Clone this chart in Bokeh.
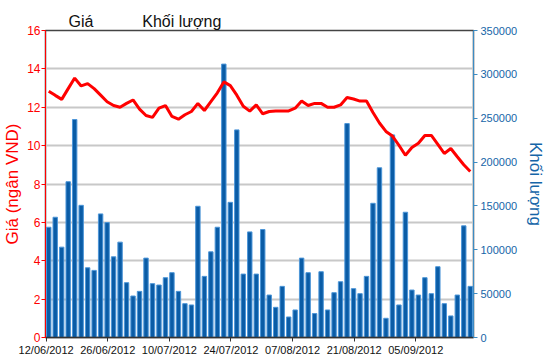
from bokeh.plotting import figure
from bokeh.models import (Range1d, LinearAxis, FixedTicker, SingleIntervalTicker,
                          NumeralTickFormatter, ColumnDataSource)
from bokeh.embed import file_html
from bokeh.resources import INLINE

tick_labels = ["12/06/2012", "26/06/2012", "10/07/2012", "24/07/2012",
               "07/08/2012", "21/08/2012", "05/09/2012"]
legend_labels = ["Giá", "Khối lượng"]

price = [12.84, 12.62, 12.41, 12.97, 13.52, 13.11, 13.23, 12.97, 12.63, 12.29,
         12.09, 12.00, 12.20, 12.38, 11.90, 11.57, 11.47, 11.95, 12.09, 11.52,
         11.38, 11.61, 11.78, 12.20, 11.83, 12.29, 12.75, 13.32, 13.13, 12.63,
         12.05, 11.80, 12.12, 11.66, 11.78, 11.81, 11.81, 11.81, 11.95, 12.32,
         12.09, 12.20, 12.20, 12.00, 12.00, 12.12, 12.51, 12.43, 12.32, 12.32,
         11.73, 11.18, 10.74, 10.50, 10.02, 9.50, 9.90, 10.12, 10.53, 10.53,
         10.07, 9.59, 9.85, 9.42, 9.00, 8.65]

volume = [125700, 137100, 103000, 177600, 248500, 150700, 79500, 76500, 140900, 131000,
          92000, 108700, 62500, 47300, 52600, 90500, 61400, 59800, 68200, 73900,
          52600, 38600, 37100, 149600, 69700, 97700, 125700, 311700, 154100, 236700,
          72300, 120400, 72300, 123100, 48400, 34400, 58300, 23400, 31400, 90500,
          73900, 27300, 75000, 31400, 51100, 63600, 243900, 55700, 50000, 69700,
          153000, 193500, 21900, 231000, 37100, 142800, 54100, 48400, 68200, 50000,
          80700, 38600, 24600, 48400, 127300, 58300]

n = len(price)
src = ColumnDataSource(dict(x=list(range(n)), price=price, volume=volume))

FONT = "Liberation Sans"
RED = "#ff0000"
BLUE = "#1565a8"
BAR = "#0a5ca6"

p = figure(width=548, height=358, output_backend="svg", toolbar_location=None,
           x_range=Range1d(-0.5, n - 0.5), y_range=Range1d(0, 16),
           min_border_left=44, min_border_right=72, min_border_top=30, min_border_bottom=20)
p.extra_y_ranges = {"vol": Range1d(0, 350000)}
p.outline_line_color = "#444444"
p.outline_line_width = 1.5

# legend text row above the plot area
p.title.text = legend_labels[0] + "\u00a0" * 11 + legend_labels[1]
p.title.text_font = FONT
p.title.text_font_size = "16px"
p.title.text_font_style = "normal"
p.title.text_color = "#111111"
p.title.align = "left"
p.title.offset = 23
p.title.standoff = 2

p.xgrid.visible = False
p.ygrid.grid_line_color = "#c8c8c8"
p.ygrid.grid_line_width = 2

p.vbar(x="x", top="volume", width=0.68, y_range_name="vol", source=src,
       fill_color=BAR, line_color="#4d96d8", line_width=1)
p.line("x", "price", source=src, line_color=RED, line_width=3)

ya = p.yaxis[0]
ya.ticker = SingleIntervalTicker(interval=2)
ya.axis_line_color = RED
ya.major_tick_line_color = RED
ya.minor_tick_line_color = None
ya.major_tick_in = 0
ya.major_tick_out = 4
ya.major_label_text_color = RED
ya.major_label_text_font = FONT
ya.major_label_text_font_size = "12px"
ya.major_label_standoff = 1
ya.axis_label = "Giá (ngân VND)"
ya.axis_label_text_color = RED
ya.axis_label_text_font = FONT
ya.axis_label_text_font_size = "17px"
ya.axis_label_text_font_style = "normal"
ya.axis_label_standoff = 2

ra = LinearAxis(y_range_name="vol", ticker=SingleIntervalTicker(interval=50000),
                formatter=NumeralTickFormatter(format="0"))
ra.axis_line_color = "#3d8cc4"
ra.major_tick_line_color = "#3d8cc4"
ra.minor_tick_line_color = None
ra.major_tick_in = 0
ra.major_tick_out = 4
ra.major_label_text_color = BLUE
ra.major_label_text_font = FONT
ra.major_label_text_font_size = "11px"
ra.major_label_standoff = 3
ra.axis_label = "Khối lượng"
ra.axis_label_text_color = BLUE
ra.axis_label_text_font = FONT
ra.axis_label_text_font_size = "17px"
ra.axis_label_text_font_style = "normal"
ra.axis_label_standoff = 6
p.add_layout(ra, "right")

tick_pos = [round(-0.4 + 9.5 * k, 2) for k in range(len(tick_labels))]
xa = p.xaxis[0]
xa.ticker = FixedTicker(ticks=tick_pos)
xa.major_label_overrides = {t: lab for t, lab in zip(tick_pos, tick_labels)}
xa.axis_line_color = "#333333"
xa.axis_line_width = 1.5
xa.major_tick_line_color = "#333333"
xa.minor_tick_line_color = None
xa.major_tick_in = 0
xa.major_tick_out = 4
xa.major_label_text_color = "#111111"
xa.major_label_text_font = FONT
xa.major_label_text_font_size = "11px"
xa.major_label_standoff = 2

open("out.html", "w").write(file_html(p, INLINE))
